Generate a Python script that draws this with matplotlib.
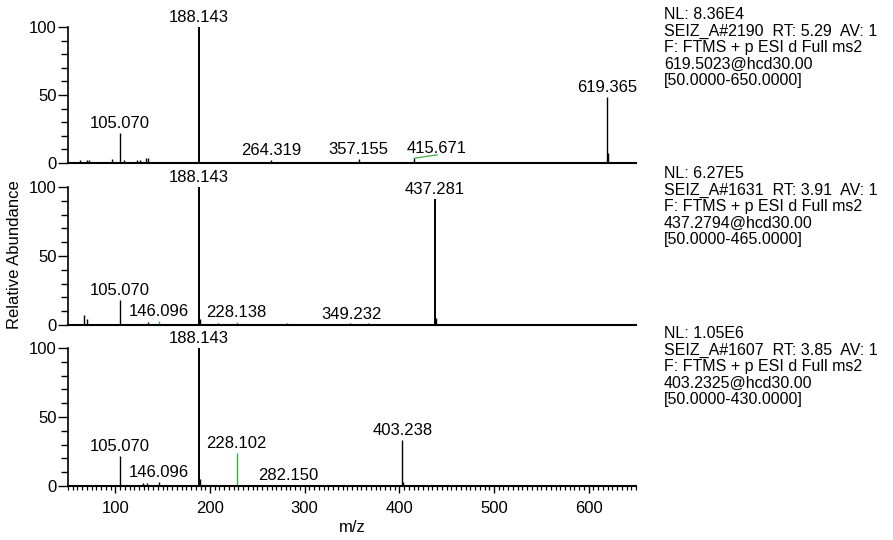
import matplotlib
matplotlib.use('Agg')
import matplotlib.pyplot as plt
from matplotlib.ticker import MultipleLocator

plt.rcParams['font.family'] = ['Liberation Sans', 'DejaVu Sans']

# panel 1: SEIZ_A#2190
mz1 = [62.7, 70.0, 72.0, 96.5, 105.070, 109.0, 123.0, 126.0, 132.0, 134.5, 188.143,
       264.319, 357.155, 415.671, 619.365, 620.37]
int1 = [2.5, 2.0, 2.0, 3.0, 22.0, 2.5, 2.5, 2.0, 3.5, 4.0, 100.0,
        2.5, 3.0, 3.5, 48.5, 7.0]
lab1 = ['105.070', '188.143', '264.319', '357.155', '415.671', '619.365']
green1_mz = [415.7, 440.0]
green1_int = [3.5, 6.0]

# panel 2: SEIZ_A#1631
mz2 = [67.0, 70.0, 105.070, 134.5, 146.096, 188.143, 189.15, 208.0, 228.138,
       281.0, 348.0, 349.232, 367.0, 377.0, 437.281, 438.28]
int2 = [7.0, 4.0, 18.0, 2.0, 3.0, 100.0, 4.0, 1.5, 2.0,
        1.5, 1.5, 1.0, 1.5, 1.0, 91.0, 5.0]
lab2 = ['105.070', '146.096', '188.143', '228.138', '349.232', '437.281']
green2 = ['146.096', '228.138']

# panel 3: SEIZ_A#1607
mz3 = [105.070, 129.0, 133.0, 146.096, 188.143, 189.15, 228.102, 282.150, 403.238, 404.24]
int3 = [22.0, 2.0, 2.5, 3.0, 100.0, 5.0, 24.0, 1.0, 33.0, 3.0]
lab3 = ['105.070', '146.096', '188.143', '228.102', '282.150', '403.238']
green3 = ['228.102']

info = [
    "NL: 8.36E4\nSEIZ_A#2190  RT: 5.29  AV: 1\nF: FTMS + p ESI d Full ms2\n619.5023@hcd30.00\n[50.0000-650.0000]",
    "NL: 6.27E5\nSEIZ_A#1631  RT: 3.91  AV: 1\nF: FTMS + p ESI d Full ms2\n437.2794@hcd30.00\n[50.0000-465.0000]",
    "NL: 1.05E6\nSEIZ_A#1607  RT: 3.85  AV: 1\nF: FTMS + p ESI d Full ms2\n403.2325@hcd30.00\n[50.0000-430.0000]",
]

# label nudges (points) where the original software moved a label aside
shift = {'415.671': 16}

fig = plt.figure(figsize=(8.93, 5.40), dpi=100)
W, H = 893.0, 540.0
left = 68 / W
width = (636 - 68) / W
panels = [(27, 163), (187, 325), (348, 486)]
info_top = [7, 166, 326]
fs = 12

data = [(mz1, int1, lab1, []), (mz2, int2, lab2, green2), (mz3, int3, lab3, green3)]

for i, ((top, bot), (mz, inten, labs, greens)) in enumerate(zip(panels, data)):
    ax = fig.add_axes([left, 1 - bot / H, width, (bot - top) / H])
    for m, v in zip(mz, inten):
        key = '%.3f' % m
        col = '#3cb043' if key in greens else 'black'
        lw = 1.4 if v > 50 else 1.0
        ax.vlines(m, 0, v, color=col, linewidth=lw)
        if key in labs:
            ax.annotate(key, (m, v), xytext=(shift.get(key, 0), 1.5),
                        textcoords='offset points', ha='center', va='bottom',
                        fontsize=fs, annotation_clip=False)
    if i == 0:
        ax.plot(green1_mz, green1_int, color='#3cb043', linewidth=0.9)
    ax.set_xlim(50, 650)
    ax.set_ylim(0, 100)
    for s in ['top', 'right']:
        ax.spines[s].set_visible(False)
    ax.spines['left'].set_linewidth(1.2)
    ax.spines['bottom'].set_linewidth(1.5)
    ax.yaxis.set_major_locator(MultipleLocator(50))
    ax.yaxis.set_minor_locator(MultipleLocator(10))
    ax.tick_params(axis='y', which='major', length=7, width=1.0, labelsize=fs, pad=1)
    ax.tick_params(axis='y', which='minor', length=5, width=1.0)
    if i < 2:
        ax.set_xticks([])
    else:
        ax.xaxis.set_major_locator(MultipleLocator(100))
        ax.xaxis.set_minor_locator(MultipleLocator(5))
        ax.tick_params(axis='x', which='major', length=5, width=1.0, labelsize=fs, pad=6)
        ax.tick_params(axis='x', which='minor', length=3, width=0.9)
        ax.set_xlabel('m/z', fontsize=fs, labelpad=3)
    fig.text(664 / W, 1 - info_top[i] / H, info[i], ha='left', va='top',
             fontsize=11.5, linespacing=1.13)

fig.text(15 / W, 1 - 255 / H, 'Relative Abundance', rotation=90,
         ha='center', va='center', fontsize=fs)

fig.savefig('out.png', dpi=100)
